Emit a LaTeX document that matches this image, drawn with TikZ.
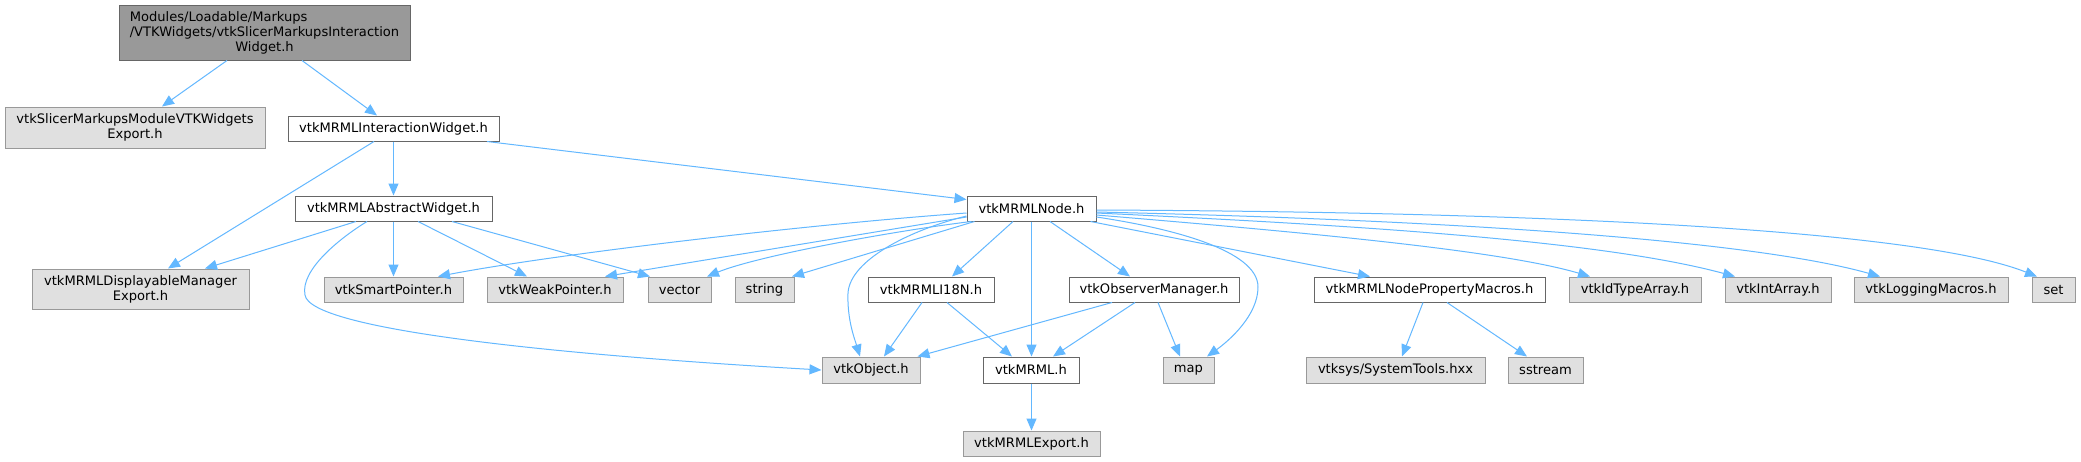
\documentclass[tikz,border=0pt]{standalone}
\usepackage{fontspec}
\setmainfont{DejaVu Sans}
\usetikzlibrary{arrows.meta}
\definecolor{edgeblue}{HTML}{63B8FF}
\definecolor{extfill}{HTML}{E0E0E0}
\definecolor{extdraw}{HTML}{999999}
\definecolor{intdraw}{HTML}{666666}
\definecolor{mainfill}{HTML}{999999}
\begin{document}
\begin{tikzpicture}[x=1pt,y=-1pt,
  box/.style={draw, line width=1pt, inner sep=0pt, minimum height=25pt,
    font=\fontsize{13.07}{15}\selectfont, align=center, text=black},
  ext/.style={box, fill=extfill, draw=extdraw},
  int/.style={box, fill=white, draw=intdraw},
  mainbox/.style={box, fill=mainfill, draw=intdraw},
  dep/.style={draw=edgeblue, line width=1pt, -{Triangle[length=12pt,width=10pt]}}]
\useasboundingbox[fill=white] (0,0) rectangle (2081,461);

% nodes
\node[mainbox, minimum width=291pt, minimum height=55pt] (main) at (264.5,32.5)
  {\rlap{Modules/Loadable/Markups}\phantom{/VTKWidgets/vtkSlicerMarkupsInteraction}\\/VTKWidgets/vtkSlicerMarkupsInteraction\\Widget.h};
\node[ext, minimum width=260pt, minimum height=41pt] (slexp) at (135,127.5) {vtkSlicerMarkupsModuleVTKWidgets\\Export.h};
\node[int, minimum width=211pt] (iw) at (393.5,128.5) {vtkMRMLInteractionWidget.h};
\node[int, minimum width=197pt] (aw) at (393.5,208.5) {vtkMRMLAbstractWidget.h};
\node[int, minimum width=129pt] (nd) at (1031.5,208.5) {vtkMRMLNode.h};
\node[ext, minimum width=217pt, minimum height=40pt] (dmexp) at (140.5,289) {vtkMRMLDisplayableManager\\Export.h};
\node[ext, minimum width=139pt] (sp) at (393.5,289.5) {vtkSmartPointer.h};
\node[ext, minimum width=136pt] (wp) at (555,289.5) {vtkWeakPointer.h};
\node[ext, minimum width=63pt] (vec) at (679.5,289.5) {vector};
\node[ext, minimum width=59pt] (str) at (764.5,289.5) {string};
\node[int, minimum width=126pt] (i18n) at (931,289.5) {vtkMRMLI18N.h};
\node[int, minimum width=170pt] (om) at (1154,289.5) {vtkObserverManager.h};
\node[int, minimum width=231pt] (pm) at (1429.5,289.5) {vtkMRMLNodePropertyMacros.h};
\node[ext, minimum width=132pt] (ida) at (1635,289.5) {vtkIdTypeArray.h};
\node[ext, minimum width=106pt] (ia) at (1778,289.5) {vtkIntArray.h};
\node[ext, minimum width=154pt] (lm) at (1931,289.5) {vtkLoggingMacros.h};
\node[ext, minimum width=43pt] (set) at (2053.5,289.5) {set};
\node[ext, minimum width=98pt, minimum height=26pt] (obj) at (871,370) {vtkObject.h};
\node[int, minimum width=96pt, minimum height=26pt] (mrml) at (1031,370) {vtkMRML.h};
\node[ext, minimum width=51pt, minimum height=26pt] (map) at (1188.5,370) {map};
\node[ext, minimum width=179pt, minimum height=26pt] (st) at (1395.5,370) {vtksys/SystemTools.hxx};
\node[ext, minimum width=75pt, minimum height=26pt] (ss) at (1545.5,370) {sstream};
\node[ext, minimum width=137pt] (mexp) at (1031.5,443.5) {vtkMRMLExport.h};

% edges from main
\draw[dep] ([xshift=-37.5pt]main.south) -- ([xshift=27pt]slexp.north);
\draw[dep] ([xshift=37.5pt]main.south) -- ([xshift=-16.5pt]iw.north);
% interaction widget
\draw[dep] (iw.south) -- (aw.north);
\draw[dep] ([xshift=-19.5pt]iw.south) -- ([xshift=27.5pt]dmexp.north);
\draw[dep] ([xshift=93.5pt]iw.south) -- ([yshift=9pt]nd.west);
% abstract widget
\draw[dep] ([xshift=-37.5pt]aw.south) -- ([xshift=64.5pt]dmexp.north);
\draw[dep] ([xshift=-26.5pt]aw.south) .. controls (340,238) and (300,270) .. (305,295)
  .. controls (310,330) and (560,355) .. (obj.west);
\draw[dep] (aw.south) -- (sp.north);
\draw[dep] ([xshift=24.5pt]aw.south) -- ([xshift=-28pt]wp.north);
\draw[dep] ([xshift=58.5pt]aw.south) -- ([xshift=-29.5pt]vec.north);
% vtkMRMLNode
\draw[dep] ([yshift=-4.5pt]nd.west) .. controls (800,225) and (550,255) .. ([xshift=44.5pt]sp.north);
\draw[dep] ([yshift=-8.5pt]nd.west) -- ([xshift=50pt]wp.north);
\draw[dep] ([xshift=5pt]nd.south west) .. controls (900,230) and (760,255) .. ([xshift=27.5pt]vec.north);
\draw[dep] ([xshift=8pt]nd.south west) -- ([xshift=27.5pt]str.north);
\draw[dep] ([yshift=-7.5pt]nd.west) .. controls (910,230) and (850,260) .. (848,293)
  .. controls (847,320) and (855,340) .. ([xshift=-11pt]obj.north);
\draw[dep] ([xshift=-18.5pt]nd.south) -- ([xshift=21pt]i18n.north);
\draw[dep] (nd.south) -- ([xshift=0.5pt]mrml.north);
\draw[dep] ([xshift=18.5pt]nd.south) -- ([xshift=-24pt]om.north);
\draw[dep] ([yshift=-8.5pt]nd.east) .. controls (1170,228) and (1258,250) .. (1258,287)
  .. controls (1258,315) and (1230,340) .. ([xshift=18.5pt]map.north);
\draw[dep] ([xshift=-6pt]nd.south east) -- ([xshift=-59.5pt]pm.north);
\draw[dep] ([yshift=-6.5pt]nd.east) .. controls (1300,232) and (1500,250) .. ([xshift=-45pt]ida.north);
\draw[dep] ([yshift=-4.5pt]nd.east) .. controls (1350,225) and (1600,240) .. ([xshift=-43pt]ia.north);
\draw[dep] ([yshift=-3.5pt]nd.east) .. controls (1450,220) and (1750,240) .. ([xshift=-51pt]lm.north);
\draw[dep] ([yshift=-1.5pt]nd.east) .. controls (1550,212) and (1920,230) .. ([xshift=-16.5pt]set.north);
% I18N
\draw[dep] ([xshift=-9pt]i18n.south) -- ([xshift=13pt]obj.north);
\draw[dep] ([xshift=16pt]i18n.south) -- ([xshift=-19pt]mrml.north);
% observer manager
\draw[dep] ([xshift=-42pt]om.south) -- ([xshift=-3pt]obj.north east);
\draw[dep] ([xshift=-19pt]om.south) -- ([xshift=22pt]mrml.north);
\draw[dep] ([xshift=4pt]om.south) -- ([xshift=-8.5pt]map.north);
% vtkMRML
\draw[dep] ([xshift=0.5pt]mrml.south) -- (mexp.north);
% property macros
\draw[dep] ([xshift=-6.5pt]pm.south) -- ([xshift=6.5pt]st.north);
\draw[dep] ([xshift=17.5pt]pm.south) -- ([xshift=-18.5pt]ss.north);
\end{tikzpicture}
\end{document}
